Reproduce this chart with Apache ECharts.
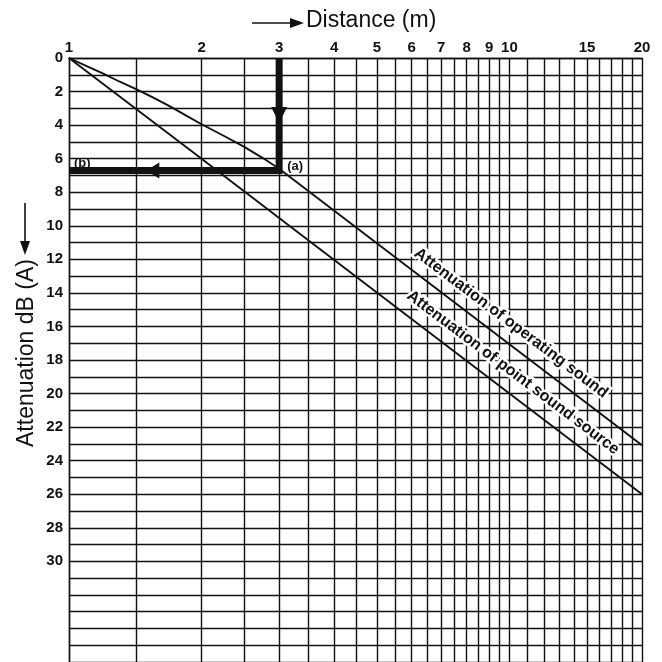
<!DOCTYPE html>
<html>
<head>
<meta charset="utf-8">
<script src="https://cdn.jsdelivr.net/npm/echarts@6/dist/echarts.min.js"></script>
<style>
html,body{margin:0;padding:0;background:#fff;}
#c{width:662px;height:662px;}
</style>
</head>
<body>
<div id="c"></div>
<script>
// ---- data ----
const distGrid = [1, 1.42, 2, 2.5, 3, 3.5, 4, 4.5, 5, 5.5, 6, 6.5, 7, 7.5, 8, 8.5, 9, 9.5, 10, 11, 12, 13, 14, 15, 16, 17, 18, 19, 20];
const distLabels = [1, 2, 3, 4, 5, 6, 7, 8, 9, 10, 15, 20];
const attLabels = [0, 2, 4, 6, 8, 10, 12, 14, 16, 18, 20, 22, 24, 26, 28, 30];

const pointDist = [1, 2, 3, 5, 10, 20];
const pointAtt = [0, 6.0, 9.54, 13.98, 20.0, 26.0];

const operDist = [1, 1.1, 1.2, 1.3, 1.42, 1.55, 1.7, 1.85, 2, 2.25, 2.5, 2.75, 3, 5, 10, 20];
const operAtt = [0, 0.5, 0.95, 1.4, 1.85, 2.35, 2.9, 3.45, 3.95, 4.65, 5.3, 5.95, 6.6, 11.04, 17.06, 23.08];

const guideDist = [3, 3, 1];
const guideAtt = [0, 6.7, 6.7];

const arrowDownDist = [3];
const arrowDownAtt = [3.4];
const arrowLeftDist = [1.55];
const arrowLeftAtt = [6.7];

const pointNames = ['(a)', '(b)'];
const pointNameDist = [3, 1];
const pointNameAtt = [6.7, 6.7];

const curveLabelText = ['Attenuation of operating sound', 'Attenuation of point sound source'];
const curveLabelDist = [10.08, 10.19];
const curveLabelAtt = [15.8, 18.75];

const xTitle = 'Distance (m)';
const yTitle = 'Attenuation dB (A)';

// ---- chart ----
const FONT = '"Liberation Sans", Arial, Helvetica, sans-serif';
const INK = '#111111';
const chart = echarts.init(document.getElementById('c'), null, {renderer: 'canvas'});

const zip = (a, b) => a.map((v, i) => [v, b[i]]);

const option = {
  animation: false,
  backgroundColor: '#fff',
  grid: {left: 69, right: 20, top: 58, bottom: -2, containLabel: false},
  xAxis: {
    type: 'log', logBase: 10, min: 1, max: 20, position: 'top',
    axisLine: {show: true, lineStyle: {color: INK, width: 1.4}},
    axisTick: {show: false, customValues: distGrid},
    axisLabel: {customValues: distLabels, color: INK, fontFamily: FONT, fontWeight: 'bold', fontSize: 15, margin: 3,
      formatter: v => String(Math.round(v * 100) / 100)},
    splitLine: {show: true, lineStyle: {color: INK, width: 1.4}},
    minorTick: {show: false}, minorSplitLine: {show: false}
  },
  yAxis: {
    type: 'value', inverse: true, min: 0, max: 36, interval: 1,
    axisLine: {show: true, lineStyle: {color: INK, width: 1.4}},
    axisTick: {show: false},
    axisLabel: {color: INK, fontFamily: FONT, fontWeight: 'bold', fontSize: 15, margin: 6,
      formatter: v => attLabels.indexOf(v) >= 0 ? String(v) : ''},
    splitLine: {show: true, lineStyle: {color: INK, width: 1.4}}
  },
  series: [
    {type: 'line', name: 'point', data: zip(pointDist, pointAtt), showSymbol: false, symbol: 'none',
      lineStyle: {color: INK, width: 1.9}, silent: true, z: 3},
    {type: 'line', name: 'operating', data: zip(operDist, operAtt), showSymbol: false, symbol: 'none',
      lineStyle: {color: INK, width: 1.9, join: 'round'}, silent: true, z: 3},
    {type: 'line', name: 'guide', data: zip(guideDist, guideAtt), showSymbol: false, symbol: 'none',
      lineStyle: {color: INK, width: 7, join: 'miter', cap: 'butt'}, silent: true, z: 4},
    {type: 'scatter', name: 'arrowDown', silent: true, z: 5, data: zip(arrowDownDist, arrowDownAtt),
      symbol: 'triangle', symbolSize: [16, 16], symbolRotate: 180, itemStyle: {color: INK, opacity: 1}},
    {type: 'scatter', name: 'arrowLeft', silent: true, z: 5, data: zip(arrowLeftDist, arrowLeftAtt),
      symbol: 'triangle', symbolSize: [16, 13], symbolRotate: 90, itemStyle: {color: INK, opacity: 1}},
    {type: 'scatter', name: 'marks', silent: true, z: 6, symbolSize: 0, itemStyle: {opacity: 1},
      data: pointNames.map((n, i) => ({
        name: n, value: [pointNameDist[i], pointNameAtt[i]],
        label: i === 0 ? {position: 'right', offset: [3, -4]} : {position: 'right', offset: [0, -7]}
      })),
      label: {show: true, formatter: p => p.name, color: INK, opacity: 1, fontFamily: FONT, fontWeight: 'bold', fontSize: 13}},
    {type: 'scatter', name: 'curveLabels', silent: true, z: 7, symbolSize: 0, itemStyle: {opacity: 1},
      data: curveLabelText.map((t, i) => ({name: t, value: [curveLabelDist[i], curveLabelAtt[i]]})),
      label: {show: true, position: 'inside', rotate: -37, formatter: p => p.name, color: INK, opacity: 1,
        fontFamily: FONT, fontWeight: 'bold', fontSize: 16, textBorderColor: '#fff', textBorderWidth: 5}}
  ],
  graphic: [
    {type: 'text', left: 306, top: 9, silent: true,
      style: {text: xTitle, fontFamily: FONT, fontSize: 23, fill: INK}},
    {type: 'line', silent: true, shape: {x1: 252, y1: 23, x2: 292, y2: 23}, style: {stroke: INK, lineWidth: 1.6}},
    {type: 'polygon', silent: true, shape: {points: [[290, 18], [304, 23], [290, 28]]}, style: {fill: INK}},
    {type: 'text', x: 27, y: 353, rotation: Math.PI / 2, silent: true,
      style: {text: yTitle, fontFamily: FONT, fontSize: 23, fill: INK, align: 'center', verticalAlign: 'middle'}},
    {type: 'line', silent: true, shape: {x1: 25, y1: 203, x2: 25, y2: 243}, style: {stroke: INK, lineWidth: 1.6}},
    {type: 'polygon', silent: true, shape: {points: [[20, 241], [25, 255], [30, 241]]}, style: {fill: INK}}
  ]
};
chart.setOption(option);
</script>
</body>
</html>
